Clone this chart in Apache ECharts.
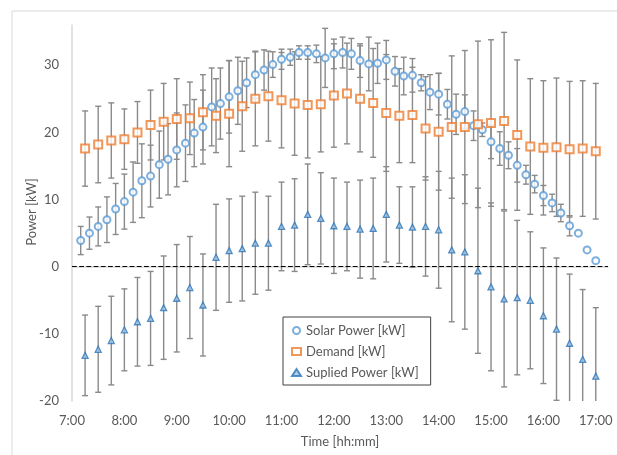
<!DOCTYPE html>
<html><head><meta charset="utf-8">
<script src="https://cdn.jsdelivr.net/npm/echarts@6/dist/echarts.min.js"></script>
<style>html,body{margin:0;padding:0;background:#fff}#c{width:617px;height:455px}</style>
</head><body><div id="c"></div>
<script>
const solarTimes = ["7:10","7:20","7:30","7:40","7:50","8:00","8:10","8:20","8:30","8:40","8:50","9:00","9:10","9:20","9:30","9:40","9:50","10:00","10:10","10:20","10:30","10:40","10:50","11:00","11:10","11:20","11:30","11:40","11:50","12:00","12:10","12:20","12:30","12:40","12:50","13:00","13:10","13:20","13:30","13:40","13:50","14:00","14:10","14:20","14:30","14:40","14:50","15:00","15:10","15:20","15:30","15:40","15:50","16:00","16:10","16:20","16:30","16:40","16:50","17:00"];
const solarPower = [3.9,5.0,6.0,7.0,8.6,9.7,11.1,12.8,13.5,15.2,16.0,17.4,18.4,19.9,20.8,23.8,24.3,25.3,26.2,27.4,28.6,29.3,30.1,30.9,31.2,31.9,31.9,31.7,31.1,31.7,31.9,31.7,30.7,30.2,30.3,30.8,29.1,28.4,28.5,27.4,26.0,25.7,24.2,22.7,23.1,21.0,20.4,18.6,17.6,16.6,15.1,13.7,12.3,10.6,9.5,8.0,6.1,5.0,2.5,0.9];
const solarErr = [2.1,2.4,2.9,3.4,3.8,4.1,4.5,5.5,4.6,5.0,5.3,5.5,5.7,5.0,5.5,5.8,5.3,5.4,5.0,3.7,3.5,3.0,1.9,1.5,1.2,1.0,1.0,1.3,4.4,2.2,2.3,2.3,2.5,4.0,3.0,2.9,2.2,2.8,2.5,1.2,2.6,3.1,2.2,3.0,2.5,2.2,1.0,2.5,2.5,2.0,2.5,1.4,1.3,1.5,1.3,1.3,1.5,0,0,0];

const loadTimes = ["7:15","7:30","7:45","8:00","8:15","8:30","8:45","9:00","9:15","9:30","9:45","10:00","10:15","10:30","10:45","11:00","11:15","11:30","11:45","12:00","12:15","12:30","12:45","13:00","13:15","13:30","13:45","14:00","14:15","14:30","14:45","15:00","15:15","15:30","15:45","16:00","16:15","16:30","16:45","17:00"];
const demand = [17.6,18.2,18.8,19.0,20.0,21.1,21.6,22.0,22.1,23.0,22.5,22.8,23.9,25.0,25.4,24.8,24.3,24.1,24.2,25.5,25.8,25.0,24.4,22.9,22.5,22.6,20.6,20.1,20.8,20.8,21.2,21.4,21.7,19.6,17.9,17.7,17.8,17.5,17.6,17.2];
const demandErr = [5.6,5.7,5.6,4.5,4.6,5.2,5.7,6.0,5.4,5.6,5.5,7.9,6.7,7.0,6.7,7.1,7.7,7.9,7.1,7.7,7.5,7.9,8.1,8.7,7.0,7.1,7.7,8.7,10.6,11.4,12.4,12.4,13.2,11.2,10.1,10.0,10.3,10.1,10.1,10.1];
const supplied = [-13.2,-12.3,-11.0,-9.4,-8.2,-7.7,-6.1,-4.7,-3.1,-5.7,1.4,2.4,2.7,3.5,3.5,6.0,6.2,7.8,7.2,6.1,6.0,5.6,5.7,7.8,6.2,5.9,6.0,5.5,2.5,2.2,-0.6,-3.0,-4.8,-4.6,-5.0,-7.3,-9.3,-11.4,-13.8,-16.3];
const suppliedErr = [6.0,6.4,6.6,6.1,6.6,7.0,7.7,8.0,7.6,7.6,7.9,7.7,7.8,7.6,7.0,6.6,6.9,7.5,6.8,7.1,6.6,7.3,7.5,7.1,5.7,6.0,7.4,8.7,10.7,11.5,12.3,12.5,13.1,11.5,10.2,10.1,10.6,10.3,10.4,10.2];

const yTicks = [-20,-10,0,10,20,30];

function toMin(s){const p=s.split(':');return (+p[0])*60+(+p[1]);}
function fmt(m){return Math.floor(m/60)+':'+String(m%60).padStart(2,'0');}

const FONT = 'Lato';
const TXT = '#595959';
const BAR = '#8a8a8a';

function errData(times, vals, errs){
  return times.map((t,i)=>[toMin(t), vals[i]-errs[i], vals[i]+errs[i]]);
}
function renderErr(params, api){
  const x = api.value(0), lo = api.value(1), hi = api.value(2);
  if (hi - lo < 1e-9) return null;
  const a = api.coord([x, hi]), b = api.coord([x, lo]);
  const c = 3;
  const st = {stroke: BAR, lineWidth: 1.4};
  return {type:'group', children:[
    {type:'line', shape:{x1:a[0],y1:a[1],x2:b[0],y2:b[1]}, style:st},
    {type:'line', shape:{x1:a[0]-c,y1:a[1],x2:a[0]+c,y2:a[1]}, style:st},
    {type:'line', shape:{x1:b[0]-c,y1:b[1],x2:b[0]+c,y2:b[1]}, style:st}
  ]};
}

const chart = echarts.init(document.getElementById('c'), null, {renderer:'canvas'});
chart.setOption({
  animation:false,
  backgroundColor:'#fff',
  graphic:[
    {type:'rect', shape:{x:12,y:11,width:700,height:600}, style:{fill:'none', stroke:'#d9d9d9', lineWidth:1}, silent:true, z:-10},
    {type:'text', x:32, y:212, rotation:Math.PI/2, silent:true,
      style:{text:'Power [kW]', fill:TXT, font:'13px ' + FONT, align:'center', verticalAlign:'middle'}}
  ],
  grid:{left:72, right:9, top:25, bottom:54},
  xAxis:{type:'value', min:420, max:1034, interval:60,
    axisLine:{show:true, lineStyle:{color:'#d9d9d9', width:1.5}}, axisTick:{show:false}, splitLine:{show:false},
    axisLabel:{color:TXT, fontFamily:FONT, fontSize:13, margin:13, showMaxLabel:false,
      formatter:v=> (v%60===0 ? fmt(v) : '')},
    name:'Time [hh:mm]', nameLocation:'middle', nameGap:34,
    nameTextStyle:{color:TXT, fontFamily:FONT, fontSize:13}},
  yAxis:{type:'value', min:-20, max:36, interval:10,
    axisLine:{show:true, lineStyle:{color:'#d9d9d9', width:1.5}}, axisTick:{show:false}, splitLine:{show:false},
    axisLabel:{color:TXT, fontFamily:FONT, fontSize:13, margin:13, showMaxLabel:false,
      formatter:v=> (yTicks.indexOf(v)>=0 ? String(v) : '')}},
  legend:{orient:'vertical', left:283, top:317, width:137,
    backgroundColor:'#fff', borderColor:'#404040', borderWidth:1, padding:[7,12,6,8], itemGap:8,
    itemWidth:9, itemHeight:7,
    textStyle:{color:TXT, fontFamily:FONT, fontSize:13},
    data:[{name:'Solar Power [kW]', icon:'emptyCircle'},{name:'Demand [kW]', icon:'emptyRect'},{name:'Suplied Power [kW]', icon:'triangle'}]},
  series:[
    {type:'custom', name:'errSolar', renderItem:renderErr, clip:true, z:1, silent:true, data:errData(solarTimes, solarPower, solarErr), encode:{x:0,y:[1,2]}},
    {type:'custom', name:'errDemand', renderItem:renderErr, clip:true, z:1, silent:true, data:errData(loadTimes, demand, demandErr), encode:{x:0,y:[1,2]}},
    {type:'custom', name:'errSupplied', renderItem:renderErr, clip:true, z:1, silent:true, data:errData(loadTimes, supplied, suppliedErr), encode:{x:0,y:[1,2]}},
    {type:'scatter', name:'Solar Power [kW]', symbol:'emptyCircle', symbolSize:7, z:3,
      itemStyle:{color:'#5b9bd5', borderWidth:1},
      data:solarTimes.map((t,i)=>[toMin(t), solarPower[i]]),
      markLine:{silent:true, symbol:'none', label:{show:false}, animation:false,
        lineStyle:{type:'dashed', color:'#000', width:1.2}, data:[{yAxis:0}]}},
    {type:'scatter', name:'Demand [kW]', symbol:'emptyRect', symbolSize:8, z:3,
      itemStyle:{color:'#ed7d31', borderWidth:1},
      data:loadTimes.map((t,i)=>[toMin(t), demand[i]])},
    {type:'scatter', name:'Suplied Power [kW]', symbol:'triangle', symbolSize:6, z:3,
      itemStyle:{color:'#9dc3e6', borderColor:'#2e75b6', borderWidth:1.3},
      data:loadTimes.map((t,i)=>[toMin(t), supplied[i]])}
  ]
});
</script></body></html>
